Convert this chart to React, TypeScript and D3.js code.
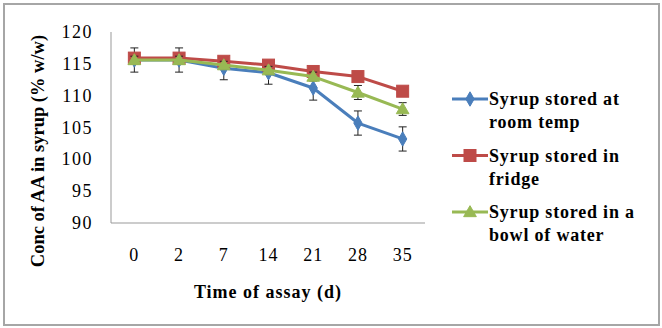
import React from "react";
import * as d3 from "d3";

const categories = ["0", "2", "7", "14", "21", "28", "35"];
const yTicks = [90, 95, 100, 105, 110, 115, 120];
const seriesNames = ["Syrup stored at room temp", "Syrup stored in fridge", "Syrup stored in a bowl of water"];
const legendLines = [["Syrup stored at", "room temp"], ["Syrup stored in", "fridge"], ["Syrup stored in a", "bowl of water"]];
const roomTemp = [115.6, 115.6, 114.3, 113.6, 111.2, 105.7, 103.2];
const fridge = [115.9, 115.9, 115.4, 114.8, 113.8, 113.0, 110.7];
const bowlWater = [115.6, 115.6, 114.8, 114.0, 113.0, 110.5, 107.9];
const roomTempErr = [1.9, 1.9, 1.8, 1.8, 1.9, 1.9, 1.9];
const fridgeErr = [0.5, 0.5, 0.4, 0.4, 0.5, 0.5, 0.5];
const bowlWaterErr = [0.6, 0.6, 0.6, 0.6, 0.7, 1.1, 1.0];
const colors = ["#4A7EBB", "#BE4B48", "#98B954"];
const shapes = ["diamond", "square", "triangle"];

const W = 662, H = 328;
const plotLeft = 111, plotRight = 425, plotTop = 32, plotBottom = 223;
const FONT = "Liberation Serif";

function T({ x, y, children, anchor = "start", bold = false, size = 18, ls = 0.8 }: any) {
  return (
    <text x={x} y={y} textAnchor={anchor} fontFamily={FONT} fontSize={size}
      fontWeight={bold ? "bold" : "normal"} letterSpacing={ls} fill="#000">{children}</text>
  );
}

function Marker({ shape, cx, cy, color }: any) {
  if (shape === "diamond") {
    const p = d3.symbol(d3.symbolDiamond, 60)();
    return <path d={p as string} transform={`translate(${cx},${cy})`} fill={color} stroke={color} strokeWidth={1} />;
  }
  if (shape === "square") {
    return <rect x={cx - 6} y={cy - 6} width={12} height={12} fill={color} stroke={color} strokeWidth={1} />;
  }
  const p = d3.symbol(d3.symbolTriangle, 70)();
  return <path d={p as string} transform={`translate(${cx},${cy + 1})`} fill={color} stroke={color} strokeWidth={1} />;
}

export default function App() {
  const x = d3.scaleBand<string>().domain(categories).range([plotLeft + 1, plotRight]).padding(0);
  const y = d3.scaleLinear().domain([90, 120]).range([plotBottom, plotTop]);
  const cx = (c: string) => (x(c) as number) + x.bandwidth() / 2;
  const data = [roomTemp, fridge, bowlWater];
  const errs = [roomTempErr, fridgeErr, bowlWaterErr];
  const line = d3.line<number>().x((_, i) => cx(categories[i])).y((v) => y(v));

  return (
    <div style={{ position: "fixed", left: 0, top: 0 }}>
      <svg width={W} height={H} style={{ display: "block", background: "#fff" }}>
        <rect x={0} y={0} width={W} height={H} fill="#fff" />
        <rect x={4} y={4} width={655} height={321} fill="none" stroke="#a6a6a6" strokeWidth={2} />
        <line x1={plotLeft} y1={plotTop} x2={plotLeft} y2={plotBottom} stroke="#999" strokeWidth={1} />
        <line x1={plotLeft} y1={plotBottom} x2={plotRight} y2={plotBottom} stroke="#999" strokeWidth={1} />
        {yTicks.map((t) => (
          <T key={t} x={93} y={y(t) + 6} anchor="end" ls={1.5}>{t}</T>
        ))}
        {categories.map((c) => (
          <T key={c} x={cx(c)} y={261} anchor="middle" ls={1}>{c}</T>
        ))}
        <T x={268} y={298} anchor="middle" bold ls={1}>Time of assay (d)</T>
        <g transform="translate(44,151) rotate(-90)">
          <text x={0} y={0} textAnchor="middle" fontFamily={FONT} fontSize={18.5} fontWeight="bold" fill="#000">Conc of AA in syrup (% w/w)</text>
        </g>
        {data.map((vals, si) => (
          <g key={si}>
            <path d={line(vals) as string} fill="none" stroke={colors[si]} strokeWidth={3} strokeLinejoin="round" />
            {vals.map((v, i) => {
              const px = cx(categories[i]);
              const e = errs[si][i];
              return (
                <g key={i} stroke="#222" strokeWidth={1}>
                  <line x1={px} x2={px} y1={y(v + e)} y2={y(v - e)} />
                  <line x1={px - 4} x2={px + 4} y1={y(v + e)} y2={y(v + e)} />
                  <line x1={px - 4} x2={px + 4} y1={y(v - e)} y2={y(v - e)} />
                </g>
              );
            })}
            {vals.map((v, i) => (
              <Marker key={i} shape={shapes[si]} cx={cx(categories[i])} cy={y(v)} color={colors[si]} />
            ))}
          </g>
        ))}
        {seriesNames.map((n, i) => {
          const ly = 99 + i * 56.5;
          return (
            <g key={n}>
              <line x1={452} x2={488} y1={ly} y2={ly} stroke={colors[i]} strokeWidth={3} />
              <Marker shape={shapes[i]} cx={470} cy={ly} color={colors[i]} />
              <T x={489} y={ly + 6} bold>{legendLines[i][0]}</T>
              <T x={489} y={ly + 29} bold>{legendLines[i][1]}</T>
            </g>
          );
        })}
      </svg>
    </div>
  );
}
